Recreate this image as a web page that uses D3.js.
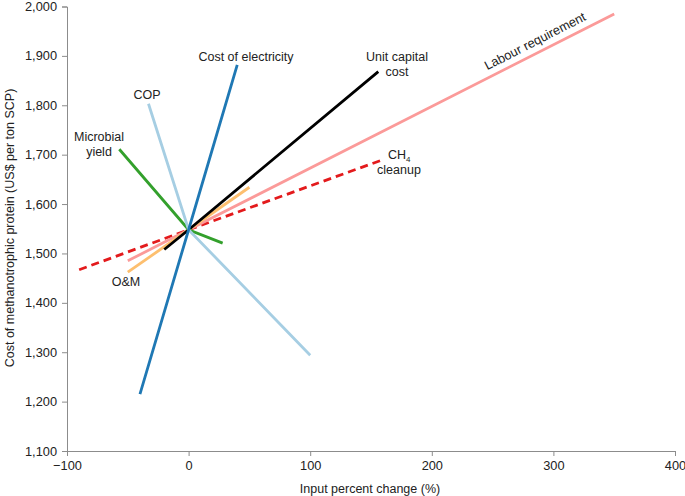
<!DOCTYPE html>
<html>
<head>
<meta charset="utf-8">
<script src="https://d3js.org/d3.v7.min.js"></script>
<style>
body { margin: 0; background: white; }
svg text { font-family: "Liberation Sans", Arial, Helvetica, sans-serif; fill: #222; }
.axis path, .axis line { stroke: #8c8c8c; }
.axis text { font-size: 12.8px; fill: #222; }
</style>
</head>
<body>
<svg id="chart" width="685" height="496"></svg>
<script>
// sensitivity lines: each one passes through the base case (0 %, 1548 US$)
var series = ["CH4 cleanup", "Labour requirement", "O&M", "Unit capital cost", "Microbial yield", "COP", "Cost of electricity"];
var colors = ["#e31a1c", "#fb9a99", "#fdbf6f", "#000000", "#33a02c", "#a6cee3", "#1f78b4"];
var dashed = [true, false, false, false, false, false, false];

var xLow  = [-90, -50, -50, -20, -57, -33, -40];
var yLow  = [1467, 1485, 1462, 1508, 1711, 1803, 1215];
var xHigh = [160, 350, 50, 156, 28, 100, 40];
var yHigh = [1690, 1985, 1634, 1868, 1521, 1294, 1882];
var baseX = 0, baseY = 1548;

var xTicks = [-100, 0, 100, 200, 300, 400];
var yTicks = [1100, 1200, 1300, 1400, 1500, 1600, 1700, 1800, 1900, 2000];

var svg = d3.select("#chart");

var x = d3.scaleLinear().domain([-100, 400]).range([67, 675]);
var y = d3.scaleLinear().domain([1100, 2000]).range([451, 6.5]);

svg.append("g")
    .attr("class", "axis")
    .attr("transform", "translate(0,451)")
    .call(d3.axisBottom(x).tickValues(xTicks).tickSizeOuter(0).tickSize(5).tickPadding(5));

svg.append("g")
    .attr("class", "axis")
    .attr("transform", "translate(67,0)")
    .call(d3.axisLeft(y).tickValues(yTicks).tickFormat(d3.format(",")).tickSizeOuter(0).tickSize(5).tickPadding(5));

var line = d3.line().x(function(d) { return x(d[0]); }).y(function(d) { return y(d[1]); });

series.forEach(function(s, i) {
    svg.append("path")
        .datum([[xLow[i], yLow[i]], [baseX, baseY], [xHigh[i], yHigh[i]]])
        .attr("d", line)
        .attr("fill", "none")
        .attr("stroke", colors[i])
        .attr("stroke-width", 2.8)
        .attr("stroke-dasharray", dashed[i] ? "8,5" : null);
});

// labels
function label(txt, px, py, anchor) {
    return svg.append("text").attr("x", px).attr("y", py)
        .attr("font-size", 12.5).attr("text-anchor", anchor || "middle").text(txt);
}
label("Cost of electricity", 246, 61);
label("COP", 147, 99);
label("Microbial", 99, 141);
label("yield", 99, 156);
label("O&M", 126, 286);
label("Unit capital", 397, 61);
label("cost", 397, 76);
var ch = label("CH", 388, 159, "start");
ch.append("tspan").attr("font-size", 8).attr("dy", 3).text("4");
label("cleanup", 399, 174);

svg.append("text")
    .attr("transform", "translate(537,45) rotate(-27)")
    .attr("font-size", 12.8).attr("text-anchor", "middle")
    .text("Labour requirement");

svg.append("text")
    .attr("transform", "translate(14,228) rotate(-90)")
    .attr("font-size", 12.5).attr("text-anchor", "middle")
    .text("Cost of methanotrophic protein (US$ per ton SCP)");

svg.append("text")
    .attr("x", 370).attr("y", 493)
    .attr("font-size", 12.5).attr("text-anchor", "middle")
    .text("Input percent change (%)");
</script>
</body>
</html>
